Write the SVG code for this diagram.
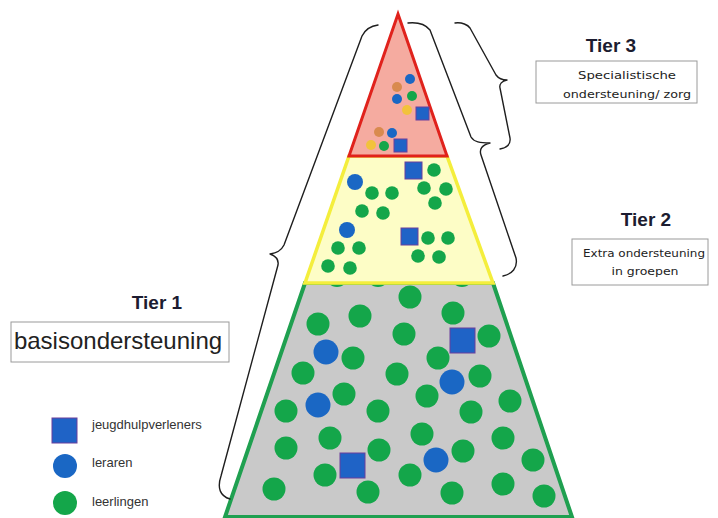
<svg xmlns="http://www.w3.org/2000/svg" width="718" height="518" viewBox="0 0 718 518">
<style>
.g{fill:#14a64a}
.b{fill:#1a67c4}
.sq{fill:#1f63c6;stroke:#6b3f9c;stroke-width:1}
.o{fill:#d98a4e}
.y{fill:#f2c23c}
.brace{fill:none;stroke:#1e1e1e;stroke-width:1.4;stroke-linecap:round;stroke-linejoin:round}
.box{fill:#fff;stroke:#9a9a9a;stroke-width:1}
.tier{font-family:"Liberation Sans",Arial,sans-serif;font-weight:bold;font-size:19px;fill:#1c1c30;text-anchor:middle}
.bt{font-family:"DejaVu Sans","Liberation Sans",sans-serif;font-size:11px;fill:#222;text-anchor:middle}
.lg{font-family:"Liberation Sans",Arial,sans-serif;font-size:13px;fill:#333}
</style>
<rect width="718" height="518" fill="#fff"/>
<g id="tier1">
<polygon points="305,283 493,283 572,517 225,517" fill="#c9c9c9" stroke="#1fa050" stroke-width="4" stroke-linejoin="miter"/>
<g>
<circle class="g" cx="337" cy="276" r="11"/><circle class="g" cx="378" cy="276" r="11"/><circle class="g" cx="462" cy="276" r="11"/>
<circle class="g" cx="410" cy="297" r="11.5"/><circle class="g" cx="360" cy="316" r="11.5"/><circle class="g" cx="453" cy="313" r="11.5"/>
<circle class="g" cx="318" cy="324" r="11.5"/><circle class="g" cx="404" cy="334" r="11.5"/><circle class="g" cx="489" cy="336" r="11.5"/>
<circle class="g" cx="353" cy="358" r="11.5"/><circle class="g" cx="438" cy="358" r="11.5"/><circle class="g" cx="303" cy="373" r="11.5"/>
<circle class="g" cx="397" cy="374" r="11.5"/><circle class="g" cx="480" cy="376" r="11.5"/><circle class="g" cx="344" cy="394" r="11.5"/>
<circle class="g" cx="427" cy="396" r="11.5"/><circle class="g" cx="510" cy="401" r="11.5"/><circle class="g" cx="286" cy="411" r="11.5"/>
<circle class="g" cx="378" cy="411" r="11.5"/><circle class="g" cx="471" cy="412" r="11.5"/><circle class="g" cx="330" cy="438" r="11.5"/>
<circle class="g" cx="422" cy="434" r="11.5"/><circle class="g" cx="503" cy="438" r="11.5"/><circle class="g" cx="286" cy="448" r="11.5"/>
<circle class="g" cx="379" cy="450" r="11.5"/><circle class="g" cx="463" cy="451" r="11.5"/><circle class="g" cx="533" cy="460" r="11.5"/>
<circle class="g" cx="325" cy="475" r="11.5"/><circle class="g" cx="410" cy="475" r="11.5"/><circle class="g" cx="274" cy="489" r="11.5"/>
<circle class="g" cx="368" cy="492" r="11.5"/><circle class="g" cx="452" cy="493" r="11.5"/><circle class="g" cx="503" cy="484" r="11.5"/>
<circle class="g" cx="544" cy="496" r="11.5"/>
<circle class="b" cx="326" cy="352" r="12.5"/><circle class="b" cx="452" cy="382" r="12.5"/>
<circle class="b" cx="318" cy="405" r="12.5"/><circle class="b" cx="436" cy="460" r="12.5"/>
<rect class="sq" x="450" y="328" width="25" height="25"/>
<rect class="sq" x="340" y="453" width="25" height="25"/>
</g>
</g>
<g id="tier2">
<polygon points="349,156 447,156 493,283 305,283" fill="#fdfdc6" stroke="#f4ee3c" stroke-width="3.5" stroke-linejoin="miter"/>
<rect class="sq" x="405" y="162" width="17" height="17"/>
<circle class="b" cx="355" cy="182" r="8"/>
<circle class="g" cx="434" cy="170" r="6.8"/><circle class="g" cx="372" cy="193" r="6.8"/><circle class="g" cx="392" cy="193" r="6.8"/>
<circle class="g" cx="424" cy="188" r="6.8"/><circle class="g" cx="446" cy="189" r="6.8"/><circle class="g" cx="362" cy="211" r="6.8"/>
<circle class="g" cx="383" cy="213" r="6.8"/><circle class="g" cx="435" cy="203" r="6.8"/>
<circle class="b" cx="347" cy="230" r="8"/>
<rect class="sq" x="401" y="228" width="17" height="17"/>
<circle class="g" cx="428" cy="238" r="6.8"/><circle class="g" cx="448" cy="238" r="6.8"/><circle class="g" cx="338" cy="248" r="6.8"/>
<circle class="g" cx="359" cy="248" r="6.8"/><circle class="g" cx="418" cy="256" r="6.8"/><circle class="g" cx="439" cy="257" r="6.8"/>
<circle class="g" cx="328" cy="266" r="6.8"/><circle class="g" cx="350" cy="268" r="6.8"/>
</g>
<g id="tier3">
<polygon points="398,14 447,156 349,156" fill="#f5aba0" stroke="#e0221c" stroke-width="3" stroke-linejoin="miter"/>
<circle class="b" cx="410" cy="79" r="5"/><circle class="o" cx="397" cy="87" r="5"/><circle class="g" cx="412" cy="96" r="5"/>
<circle class="b" cx="397" cy="99" r="5"/><circle class="y" cx="407" cy="110" r="5"/>
<rect class="sq" x="416" y="107" width="13" height="13"/>
<circle class="o" cx="379" cy="132" r="5"/><circle class="b" cx="392" cy="133" r="5"/>
<circle class="y" cx="371" cy="145" r="5"/><circle class="g" cx="384" cy="146" r="5"/>
<rect class="sq" x="394" y="139" width="13" height="13"/>
</g>
<g id="connectors">
<path class="brace" d="M378,25 C370,26 365,30 362,36 L284,245 C281,251 277,253 270,254 C276,256 279,259 278,265 L221,476 C217,488 220,496 230,499"/>
<path class="brace" d="M408,23 C418,22 426,25 430,30 L471,137 C474,142 480,143 490,143 C482,145 479,149 481,155 L516,258 C518,268 512,274 503,276"/>
<path class="brace" d="M455,23 C462,22 468,25 470,28 L496,75 C499,79 502,80 507,80 C502,81 499,84 500,88 L510,138 C511,145 506,148 500,149"/>
</g>
<g id="label-tier3">
<text class="tier" x="611" y="52">Tier 3</text>
<rect class="box" x="536" y="61" width="161" height="42"/>
<text class="bt" x="627" y="79" textLength="98" lengthAdjust="spacingAndGlyphs">Specialistische</text>
<text class="bt" x="627" y="98" textLength="128" lengthAdjust="spacingAndGlyphs">ondersteuning/ zorg</text>
</g>
<g id="label-tier2">
<text class="tier" x="646" y="226">Tier 2</text>
<rect class="box" x="572" y="239" width="136" height="46"/>
<text class="bt" x="644" y="257" textLength="122" lengthAdjust="spacingAndGlyphs">Extra ondersteuning</text>
<text class="bt" x="645" y="275" textLength="67" lengthAdjust="spacingAndGlyphs">in groepen</text>
</g>
<g id="label-tier1">
<text class="tier" x="157" y="309">Tier 1</text>
<rect class="box" x="11" y="322" width="218" height="40"/>
<text x="118" y="349" font-family="Liberation Sans, Arial, sans-serif" font-size="24" fill="#222" text-anchor="middle">basisondersteuning</text>
</g>
<g id="legend">
<rect class="sq" x="52" y="418" width="25" height="25"/>
<text class="lg" x="92" y="429">jeugdhulpverleners</text>
<circle class="b" cx="65" cy="466" r="12"/>
<text class="lg" x="92" y="467">leraren</text>
<circle class="g" cx="65" cy="503" r="12"/>
<text class="lg" x="92" y="506">leerlingen</text>
</g>
</svg>
